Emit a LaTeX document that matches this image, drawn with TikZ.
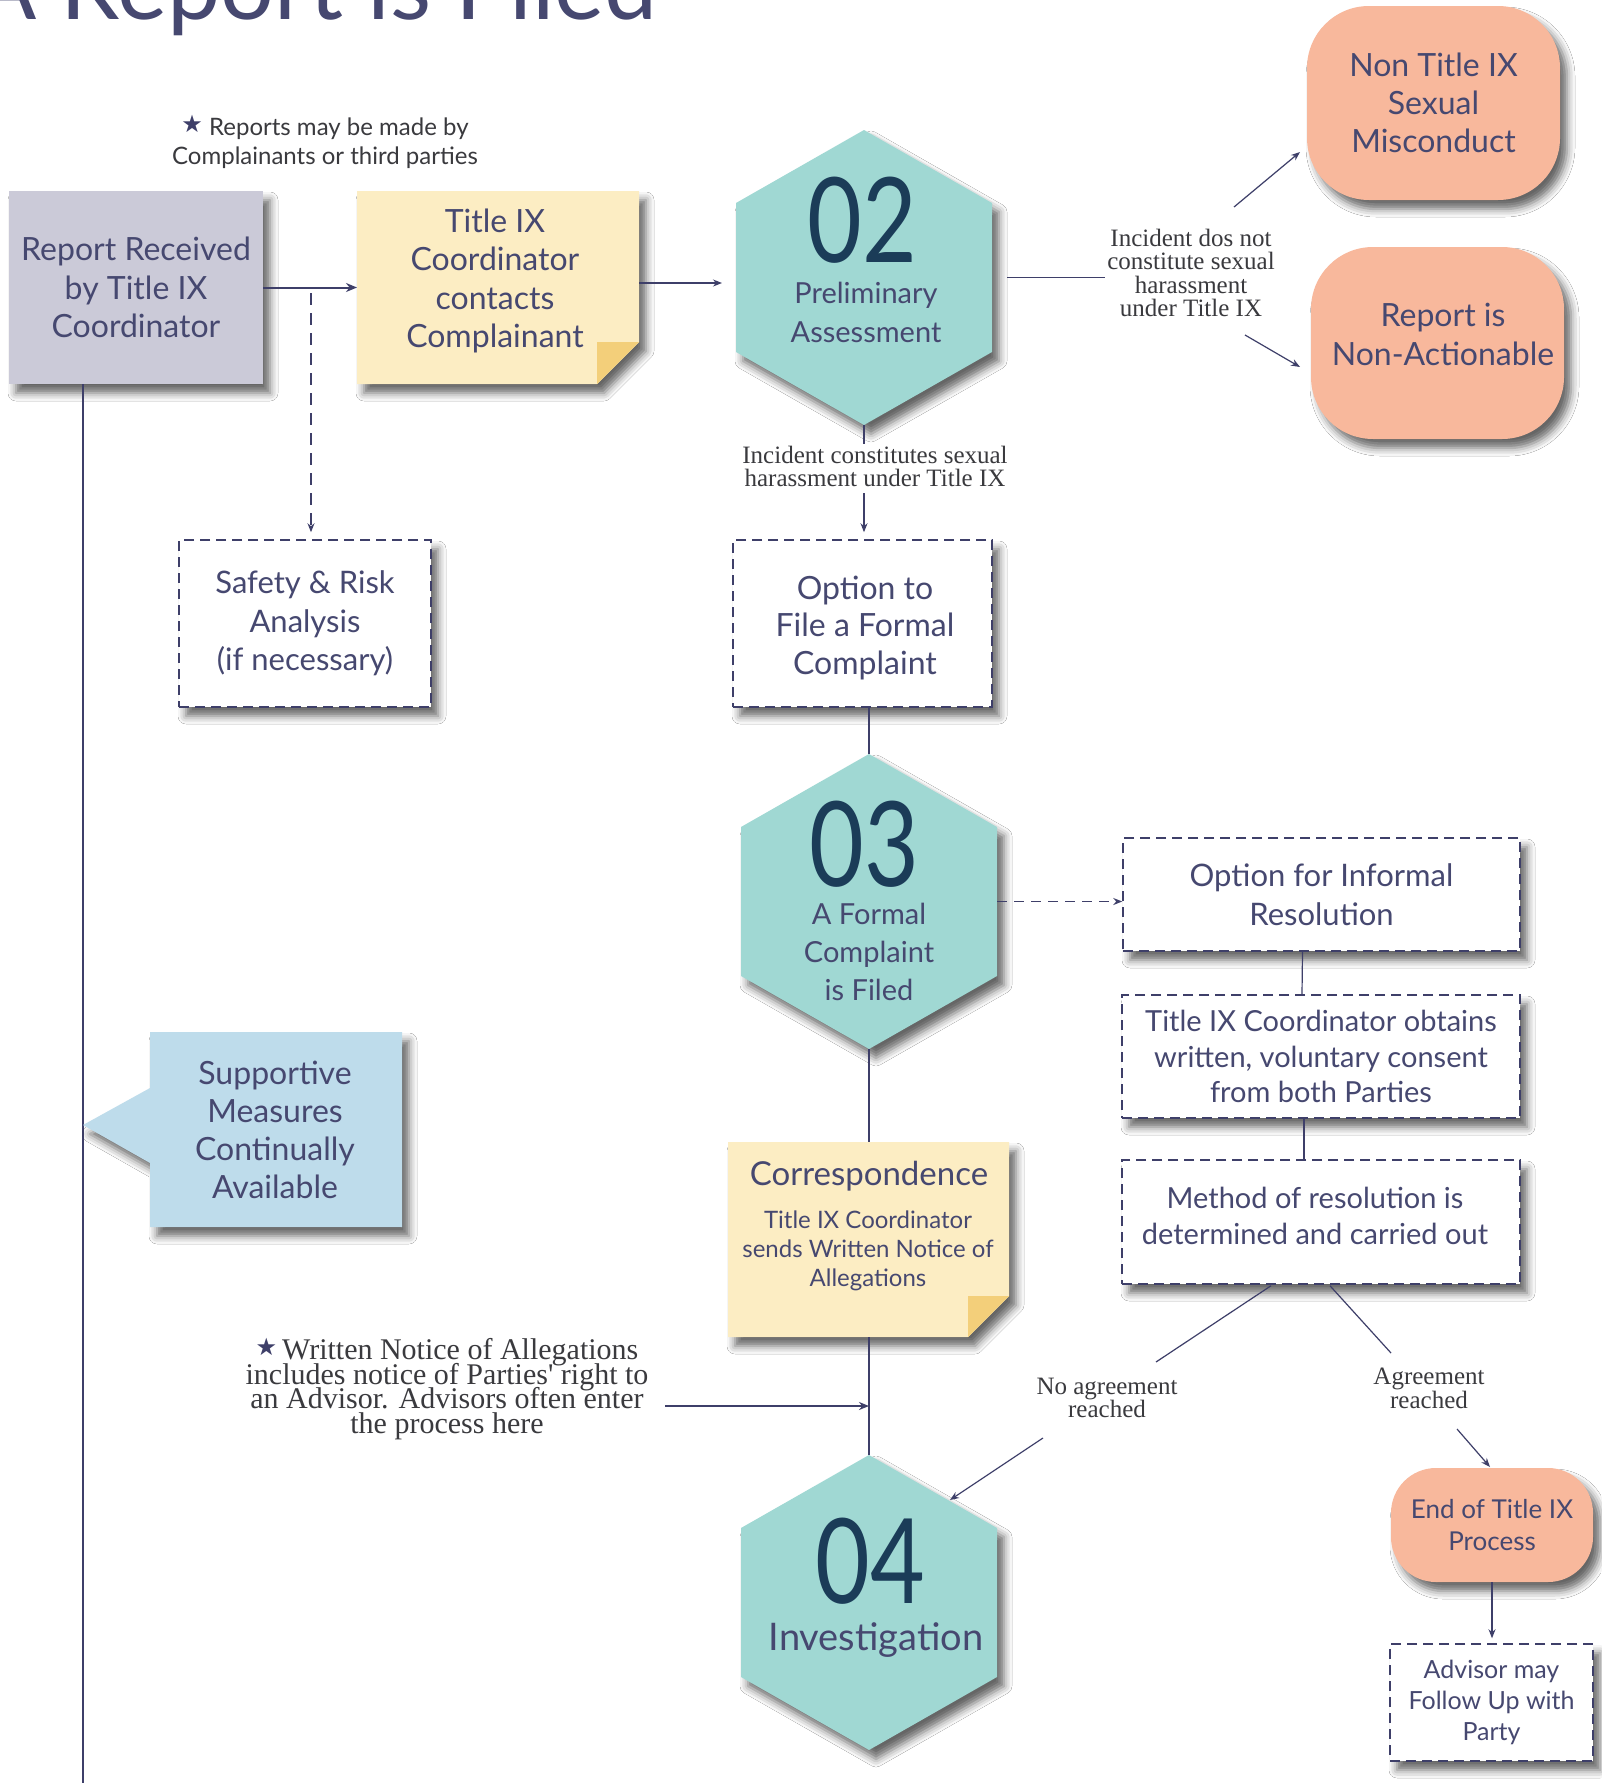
\documentclass[tikz,border=0pt]{standalone}
\usepackage{fontspec}
\setmainfont{Lato}
\newfontfamily\labelserif{Liberation Serif}
\newfontfamily\symfont{DejaVu Sans}
\usetikzlibrary{arrows.meta,calc,shadows.blur}
\definecolor{textc}{RGB}{70,72,112}
\definecolor{linec}{RGB}{62,63,105}
\definecolor{lavc}{RGB}{203,202,216}
\definecolor{yelc}{RGB}{252,237,195}
\definecolor{foldc}{RGB}{243,207,122}
\definecolor{tealc}{RGB}{160,216,211}
\definecolor{navyc}{RGB}{27,60,88}
\definecolor{salc}{RGB}{248,184,156}
\definecolor{bluec}{RGB}{190,220,235}
\definecolor{grayc}{RGB}{58,58,62}
\newcommand\setfs[2]{\fontsize{#1}{#2}\selectfont\lineskiplimit=-100pt\relax}
\begin{document}
\begin{tikzpicture}[x=1pt,y=-1pt,
 sh/.style={blur shadow={shadow xshift=7pt,shadow yshift=-9pt,shadow blur radius=8pt,shadow opacity=60}},
 txt/.style={text=textc,align=center,inner sep=0pt},
 lbl/.style={text=grayc,align=center,inner sep=2pt,font=\labelserif\setfs{25}{23.5}},
 conn/.style={draw=linec,line width=1.2pt},
 arr/.style={conn,-{Stealth[length=9pt,width=7pt]}},
 frame/.style={inner sep=0pt,outer sep=0pt},
 dbox/.style={txt,draw=linec,line width=1.5pt,dash pattern=on 10pt off 6pt,fill=white,sh},
 sbox/.style={txt,fill=salc,rounded corners=#1,sh},
 hexf/.style={fill=tealc,sh},
 num/.style={text=navyc,inner sep=0pt,anchor=base,font=\setfs{118}{118}},
]
\useasboundingbox (0,0) rectangle (1601,1783);
\fill[white] (0,0) rectangle (1601,1783);

% title
\node[text=textc,anchor=base east,inner sep=0pt,font=\setfs{95}{95}] (title) at (658,19) {A Report is Filed};

% top note
\node[txt,text=grayc,font=\setfs{24}{29.5}] (note1) at (325,142) {{\symfont\setfs{24}{24}\textcolor{linec}{\raisebox{3pt}{★}}}\ Reports may be made by\\Complainants or third parties};

% left line
\coordinate (lb) at (83,1783);

% report received
\node[txt,fill=lavc,sh,minimum width=254pt,minimum height=193pt,font=\setfs{32}{38.5}] (rep) at (136,287.5) {Report Received\\by Title IX\\Coordinator};
\draw[conn] (lb |- rep.south) -- (lb);

% Title IX sticky
\node[frame,minimum width=282pt,minimum height=193pt] (tix) at (498,287.5) {};
\fill[yelc,sh] (tix.north west) -- (tix.north east) -- ($(tix.south east)+(0,-42)$) -- ($(tix.south east)+(-42,0)$) -- (tix.south west) -- cycle;
\fill[foldc] ($(tix.south east)+(-42,-42)$) -- ($(tix.south east)+(0,-42)$) -- ($(tix.south east)+(-42,0)$) -- cycle;
\node[txt,font=\setfs{32}{38.5}] (tixt) at (495,281) {Title IX\\Coordinator\\contacts\\Complainant};

% hex 02
\node[frame,minimum width=256pt,minimum height=295pt] (h2) at (864,277.5) {};
\fill[hexf] (h2.north) -- ($(h2.north east)+(0,73)$) -- ($(h2.south east)+(0,-73)$) -- (h2.south) -- ($(h2.south west)+(0,-73)$) -- ($(h2.north west)+(0,73)$) -- cycle;
\node[num] (n2) at (862,262) {\scalebox{0.8}[1]{02}};
\node[txt,font=\setfs{29}{39}] (h2t) at (866,312) {Preliminary\\Assessment};

% salmon boxes
\node[sbox=62pt,minimum width=253pt,minimum height=194pt,font=\setfs{32}{38}] (ntix) at (1433.5,103) {Non Title IX\\Sexual\\Misconduct};
\node[sbox=62pt,minimum width=253pt,minimum height=192pt] (nact) at (1437.5,343) {};
\node[txt,font=\setfs{32}{39}] (nactt) at (1443,334) {Report is\\Non-Actionable};

% label 1
\node[lbl] (l1) at (1191,273) {Incident dos not\\constitute sexual\\harassment\\under Title IX};

% safety
\node[dbox,minimum width=252pt,minimum height=167pt,font=\setfs{31}{38.5}] (saf) at (305,623.5) {Safety \& Risk\\Analysis\\(if necessary)};

% option to file
\node[dbox,minimum width=259pt,minimum height=167pt] (opt) at (862.5,623.5) {};
\node[txt,font=\setfs{32}{37.5}] (optt) at (865,628) {Option to\\File a Formal\\Complaint};

% label 2
\node[lbl] (l2) at (875,466.5) {Incident constitutes sexual\\harassment under Title IX};

% hex 03
\node[frame,minimum width=256pt,minimum height=295pt] (h3) at (869,901.5) {};
\fill[hexf] (h3.north) -- ($(h3.north east)+(0,73)$) -- ($(h3.south east)+(0,-73)$) -- (h3.south) -- ($(h3.south west)+(0,-73)$) -- ($(h3.north west)+(0,73)$) -- cycle;
\node[num] (n3) at (864.5,886) {\scalebox{0.8}[1]{03}};
\node[txt,font=\setfs{29}{38}] (h3t) at (869,952) {A Formal\\Complaint\\is Filed};

% informal branch
\node[dbox,minimum width=397pt,minimum height=113pt,font=\setfs{31}{39}] (inf) at (1321.5,894.5) {Option for Informal\\Resolution};
\node[dbox,minimum width=398pt,minimum height=123pt,font=\setfs{29}{35.5}] (cons) at (1321,1056.5) {Title IX Coordinator obtains\\written, voluntary consent\\from both Parties};
\node[dbox,minimum width=398pt,minimum height=124pt] (meth) at (1321,1222) {};
\node[txt,font=\setfs{29}{36}] (metht) at (1315,1216) {Method of resolution is\\determined and carried out};

% supportive measures
\node[frame,minimum width=252pt,minimum height=195pt] (sup) at (276,1129.5) {};
\fill[bluec,sh] (sup.north west) -- (sup.north east) -- (sup.south east) -- (sup.south west) -- ($(sup.west)+(0,33.5)$) -- ($(sup.west)+(-67,-4.5)$) -- ($(sup.west)+(0,-41.5)$) -- cycle;
\node[txt,font=\setfs{32}{38}] (supt) at (275,1130) {Supportive\\Measures\\Continually\\Available};

% correspondence sticky
\node[frame,minimum width=281pt,minimum height=195pt] (corr) at (868.5,1239.5) {};
\fill[yelc,sh] (corr.north west) -- (corr.north east) -- ($(corr.south east)+(0,-41)$) -- ($(corr.south east)+(-41,0)$) -- (corr.south west) -- cycle;
\fill[foldc] ($(corr.south east)+(-41,-41)$) -- ($(corr.south east)+(0,-41)$) -- ($(corr.south east)+(-41,0)$) -- cycle;
\node[txt,font=\setfs{33}{33}] (corrh) at (869,1176) {Correspondence};
\node[txt,font=\setfs{24}{29}] (corrs) at (868,1251) {Title IX Coordinator\\sends Written Notice of\\Allegations};

% note 2
\node[lbl,font=\labelserif\setfs{30}{24.5}] (note2) at (447,1389) {{\symfont\setfs{24}{24}\textcolor{linec}{\raisebox{4pt}{★}}}\,Written Notice of Allegations\\includes notice of Parties' right to\\an Advisor. Advisors often enter\\the process here};

% hex 04
\node[frame,minimum width=256pt,minimum height=295pt] (h4) at (869,1602.5) {};
\fill[hexf] (h4.north) -- ($(h4.north east)+(0,73)$) -- ($(h4.south east)+(0,-73)$) -- (h4.south) -- ($(h4.south west)+(0,-73)$) -- ($(h4.north west)+(0,73)$) -- cycle;
\node[num] (n4) at (870.5,1603) {\scalebox{0.8}[1]{04}};
\node[txt,anchor=base,font=\setfs{38}{38}] (h4t) at (876,1650) {Investigation};

% labels lower
\node[lbl] (nag) at (1107,1398) {No agreement\\reached};
\node[lbl] (agr) at (1429,1388.5) {Agreement\\reached};

% end + advisor
\node[sbox=45pt,minimum width=202pt,minimum height=114pt,font=\setfs{26}{32}] (endb) at (1492,1525) {End of Title IX\\Process};
\node[dbox,minimum width=203pt,minimum height=117pt,font=\setfs{25}{31}] (adv) at (1491.5,1702.5) {Advisor may\\Follow Up with\\Party};

% ---------- connectors
\draw[conn,line width=2pt,-{Stealth[length=11pt,width=9pt]}] (rep.east) -- (tix.west);
\coordinate (ds) at (311,293);
\draw[arr,dash pattern=on 12pt off 8pt,shorten >=7pt] (ds) -- (ds |- saf.north);
\draw[arr,shorten >=14pt] (tix.east |- 0,283) -- (h2.west |- 0,283);
\draw[conn,shorten <=15pt] (h2.east) -- (h2.east -| l1.west);
\coordinate (a1s) at (1234,207); \coordinate (a1e) at (1300,152);
\draw[arr] (a1s) -- (a1e);
\coordinate (a2s) at (1245,335); \coordinate (a2e) at (1300,367);
\draw[arr] (a2s) -- (a2e);
\draw[conn] (h2.south) -- (h2.south |- l2.north);
\draw[arr,shorten <=4pt,shorten >=7pt] (h2.south |- l2.south) -- (h2.south |- opt.north);
\draw[conn] (h3.north |- opt.south) -- (h3.north);
\draw[arr,dash pattern=on 10pt off 7pt] (h3.east) -- (h3.east -| inf.west);
\draw[conn] ([xshift=-19pt]inf.south) -- ([xshift=-19pt]cons.north);
\draw[conn] ([xshift=-17pt]cons.south) -- ([xshift=-17pt]meth.north);
\draw[conn] (h3.south) -- (h3.south |- corr.north);
\draw[conn] (h4.north |- corr.south) -- (h4.north);
\coordinate (nj) at (665,1406);
\draw[conn,line width=2pt,-{Stealth[length=10pt,width=8pt]}] (nj) -- (nj -| h4.north);
\coordinate (m1e) at (1156,1362);
\draw[conn] ($(meth.south)+(-50,1)$) -- (m1e);
\coordinate (b1s) at (1043,1438); \coordinate (b1e) at (950,1500);
\draw[arr] (b1s) -- (b1e);
\coordinate (m2e) at (1391,1353);
\draw[conn] ($(meth.south)+(9,1)$) -- (m2e);
\coordinate (b2s) at (1457,1429); \coordinate (b2e) at (1490,1467);
\draw[arr] (b2s) -- (b2e);
\draw[arr,shorten >=5pt] (endb.south) -- (endb.south |- adv.north);
\end{tikzpicture}
\end{document}
